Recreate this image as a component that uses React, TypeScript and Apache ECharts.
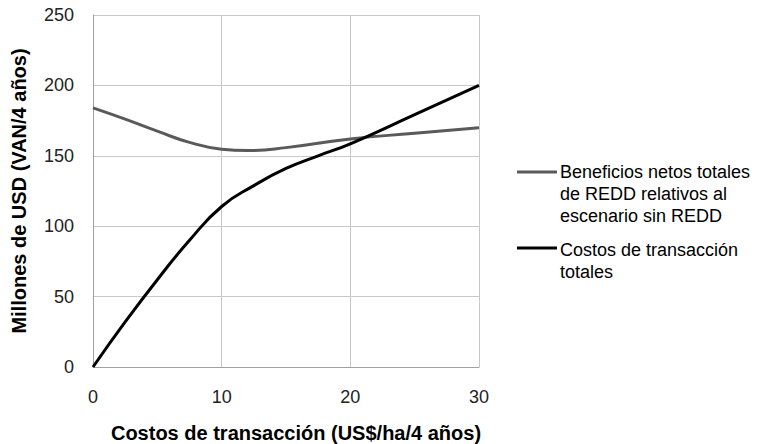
import React, { useEffect, useRef } from "react";
import * as echarts from "echarts";

const xTicks = [0, 10, 20, 30];
const seriesNames = [
  "Beneficios netos totales\nde REDD relativos al\nescenario sin REDD",
  "Costos de transacción\ntotales",
];
const beneficiosX = [0, 2.5, 5, 7.5, 10, 12, 15, 20, 25, 30];
const beneficiosY = [184, 176, 167.5, 159.5, 154.7, 153.7, 155.8, 162, 166, 170];
const costosX = [0, 2.5, 5, 7.5, 10, 12.5, 15, 17.5, 20, 25, 30];
const costosY = [0, 32, 62, 90, 114, 128.8, 141, 150, 158.5, 179.2, 200];
const seriesColors = ["#5a5a5a", "#000000"];
const xTitle = "Costos de transacción (US$/ha/4 años)";
const yTitle = "Millones de USD (VAN/4 años)";

export default function App() {
  const ref = useRef<HTMLDivElement>(null);
  useEffect(() => {
    if (!ref.current) return;
    const chart = echarts.init(ref.current, null, { renderer: "svg" });
    const font = "Liberation Sans, Arial, sans-serif";
    const zip = (xs: number[], ys: number[]) => xs.map((x, i) => [x, ys[i]]);
    chart.setOption({
      animation: false,
      grid: { left: 93, right: 289, top: 15, bottom: 77 },
      xAxis: {
        type: "value",
        min: xTicks[0],
        max: xTicks[xTicks.length - 1],
        interval: 10,
        axisLine: { show: true, lineStyle: { color: "#a0a0a0", width: 1 } },
        axisTick: { show: false },
        splitLine: { show: true, lineStyle: { color: "#c8c8c8", width: 1 } },
        axisLabel: { color: "#222", fontSize: 18, fontFamily: font, margin: 21 },
      },
      yAxis: {
        type: "value",
        min: 0,
        max: 250,
        interval: 50,
        name: yTitle,
        nameLocation: "middle",
        nameGap: 64,
        nameTextStyle: { color: "#000", fontSize: 20, fontWeight: "bold", fontFamily: font },
        axisLine: { show: true, lineStyle: { color: "#a0a0a0", width: 1 } },
        axisTick: { show: false },
        splitLine: { show: true, lineStyle: { color: "#c8c8c8", width: 1 } },
        axisLabel: { color: "#222", fontSize: 18, fontFamily: font, margin: 19 },
      },
      series: [
        {
          name: seriesNames[0],
          type: "line",
          smooth: 0.5,
          showSymbol: false,
          data: zip(beneficiosX, beneficiosY),
          lineStyle: { color: seriesColors[0], width: 3 },
          itemStyle: { color: seriesColors[0] },
          z: 2,
        },
        {
          name: seriesNames[1],
          type: "line",
          smooth: 0.5,
          showSymbol: false,
          data: zip(costosX, costosY),
          lineStyle: { color: seriesColors[1], width: 3 },
          itemStyle: { color: seriesColors[1] },
          z: 3,
        },
      ],
      graphic: [
        {
          type: "text",
          x: 296,
          y: 433,
          style: {
            text: xTitle,
            fontSize: 20,
            fontWeight: "bold",
            fontFamily: font,
            fill: "#000",
            align: "center",
            verticalAlign: "middle",
          },
        },
        {
          type: "line",
          shape: { x1: 517, y1: 172, x2: 557, y2: 172 },
          style: { stroke: seriesColors[0], lineWidth: 3 },
        },
        {
          type: "text",
          x: 560,
          y: 161,
          style: {
            text: seriesNames[0],
            fontSize: 18,
            fontFamily: font,
            fill: "#000",
            lineHeight: 22,
            align: "left",
            verticalAlign: "top",
          },
        },
        {
          type: "line",
          shape: { x1: 517, y1: 248, x2: 557, y2: 248 },
          style: { stroke: seriesColors[1], lineWidth: 3 },
        },
        {
          type: "text",
          x: 560,
          y: 239,
          style: {
            text: seriesNames[1],
            fontSize: 18,
            fontFamily: font,
            fill: "#000",
            lineHeight: 22,
            align: "left",
            verticalAlign: "top",
          },
        },
      ],
    });
    return () => chart.dispose();
  }, []);
  return (
    <div
      ref={ref}
      style={{ position: "absolute", left: 0, top: 0, width: 768, height: 444 }}
    />
  );
}
